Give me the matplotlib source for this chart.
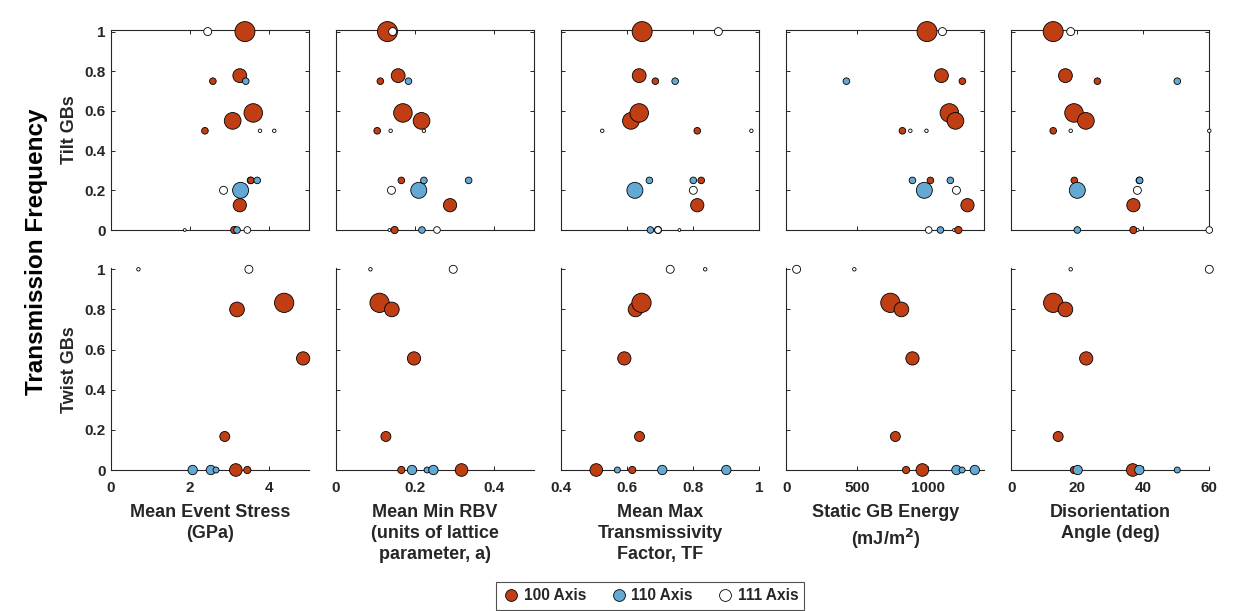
import numpy as np
import matplotlib
matplotlib.use('Agg')
import matplotlib.pyplot as plt
from matplotlib.lines import Line2D

plt.rcParams['font.family'] = ['Liberation Sans', 'DejaVu Sans']
plt.rcParams['font.weight'] = 'bold'

# ---------------- data ----------------
axis_types = ['100 Axis', '110 Axis', '111 Axis']
axis_colors = ['#BF3E14', '#63A9D4', '#FFFFFF']

metric_labels = ['Mean Event Stress\n(GPa)',
                 'Mean Min RBV\n(units of lattice\nparameter, a)',
                 'Mean Max\nTransmissivity\nFactor, TF',
                 'Static GB Energy\n(mJ/m$^\\mathbf{2}$)',
                 'Disorientation\nAngle (deg)']
metric_xlim = [(0, 5), (0, 0.5), (0.4, 1.0), (0, 1400), (0, 60)]
metric_ticks = [[0, 2, 4], [0, 0.2, 0.4], [0.4, 0.6, 0.8, 1.0], [0, 500, 1000], [0, 20, 40, 60]]
metric_ticklabels = [['0', '2', '4'], ['0', '0.2', '0.4'], ['0.4', '0.6', '0.8', '1'],
                     ['0', '500', '1000'], ['0', '20', '40', '60']]
freq_ticks = [0, 0.2, 0.4, 0.6, 0.8, 1.0]
freq_ticklabels = ['0', '0.2', '0.4', '0.6', '0.8', '1']

# Tilt GBs (axis index: 0=100, 1=110, 2=111)
tilt_axis = [2, 0, 0, 1, 0, 0, 0, 0, 2, 2, 0, 1, 1, 2, 1, 0, 2, 0, 1, 2]
tilt_freq = [1.0, 1.0, 0.778, 0.75, 0.75, 0.59, 0.55, 0.5, 0.5, 0.5,
             0.25, 0.25, 0.25, 0.2, 0.2, 0.125, 0.0, 0.0, 0.0, 0.0]
tilt_events = [16, 100, 48, 11, 11, 86, 70, 11, 3, 3, 11, 11, 11, 16, 64, 44, 2, 13, 11, 11]
tilt_stress = [2.45, 3.39, 3.26, 3.41, 2.58, 3.60, 3.08, 2.38, 3.77, 4.13,
               3.54, 3.70, 3.53, 2.85, 3.28, 3.26, 1.87, 3.12, 3.19, 3.45]
tilt_rbv = [0.143, 0.130, 0.157, 0.183, 0.112, 0.169, 0.216, 0.104, 0.138, 0.222,
            0.165, 0.222, 0.335, 0.140, 0.209, 0.288, 0.135, 0.148, 0.217, 0.255]
tilt_tf = [0.876, 0.645, 0.636, 0.745, 0.685, 0.636, 0.611, 0.812, 0.524, 0.976,
           0.824, 0.667, 0.800, 0.800, 0.623, 0.812, 0.758, 0.693, 0.670, 0.693]
tilt_energy = [1104, 995, 1097, 425, 1245, 1153, 1196, 821, 877, 991,
               1019, 892, 1160, 1203, 976, 1281, 1186, 1217, 1090, 1007]
tilt_angle = [18.0, 12.7, 16.4, 50.3, 26.1, 19.0, 22.6, 12.7, 18.0, 60.0,
              19.1, 38.8, 38.9, 38.2, 20.0, 37.0, 38.3, 37.0, 20.0, 60.0]

# Twist GBs
twist_axis = [2, 2, 0, 0, 0, 0, 0, 0, 1, 1, 1]
twist_freq = [1.0, 1.0, 0.833, 0.8, 0.556, 0.167, 0.0, 0.0, 0.0, 0.0, 0.0]
twist_events = [3, 16, 93, 54, 44, 25, 40, 13, 22, 22, 9]
twist_stress = [0.70, 3.49, 4.38, 3.19, 4.86, 2.88, 3.16, 3.45, 2.07, 2.53, 2.66]
twist_rbv = [0.087, 0.296, 0.110, 0.141, 0.197, 0.126, 0.317, 0.165, 0.192, 0.246, 0.230]
twist_tf = [0.836, 0.730, 0.643, 0.625, 0.591, 0.637, 0.506, 0.615, 0.706, 0.900, 0.570]
twist_energy = [481, 73, 736, 814, 892, 771, 962, 847, 1203, 1333, 1243]
twist_angle = [18.0, 60.0, 12.7, 16.4, 22.7, 14.2, 36.8, 19.0, 20.1, 38.8, 50.3]

# ---------------- figure ----------------
W, H = 1233, 611
fig = plt.figure(figsize=(W / 100, H / 100), dpi=100)
fig.patch.set_facecolor('white')

dark = '#262626'
col_left_px = [110.7, 336.0, 561.3, 786.3, 1011.3]
col_w_px = 198.0
area_per_event = 2.07

rows = [
    dict(name='Tilt GBs', bottom=230.0, height=200.0, ylim=(0, 1.008),
         axis=tilt_axis, freq=tilt_freq, events=tilt_events,
         xs=[tilt_stress, tilt_rbv, tilt_tf, tilt_energy, tilt_angle], box=True),
    dict(name='Twist GBs', bottom=470.0, height=201.7, ylim=(0, 1.005),
         axis=twist_axis, freq=twist_freq, events=twist_events,
         xs=[twist_stress, twist_rbv, twist_tf, twist_energy, twist_angle], box=False),
]

for r, row in enumerate(rows):
    for c in range(5):
        ax = fig.add_axes([col_left_px[c] / W, 1 - row['bottom'] / H,
                           col_w_px / W, row['height'] / H])
        x = np.asarray(row['xs'][c], dtype=float)
        y = np.asarray(row['freq'], dtype=float)
        a = np.asarray(row['axis'])
        n = np.asarray(row['events'], dtype=float)
        order = np.argsort(x, kind='stable')
        ax.scatter(x[order], y[order], s=n[order] * area_per_event,
                   c=[axis_colors[k] for k in a[order]],
                   edgecolors='black', linewidths=0.6, clip_on=False, zorder=3)
        ax.set_xlim(*metric_xlim[c])
        ax.set_ylim(*row['ylim'])
        ax.set_xticks(metric_ticks[c])
        ax.set_yticks(freq_ticks)
        for sp in ax.spines.values():
            sp.set_color(dark)
            sp.set_linewidth(0.8)
        if row['box']:
            ax.tick_params(direction='in', length=3, width=0.7, colors=dark,
                           top=True, right=True, labelbottom=False,
                           labelleft=(c == 0), labelsize=11)
        else:
            ax.spines['top'].set_visible(False)
            ax.spines['right'].set_visible(False)
            ax.tick_params(direction='in', length=3, width=0.7, colors=dark,
                           labelleft=(c == 0), labelsize=11)
            ax.tick_params(axis='x', pad=8)
            ax.set_xticklabels(metric_ticklabels[c], fontweight='bold')
            ax.set_xlabel(metric_labels[c], fontsize=13, fontweight='bold',
                          color=dark, linespacing=1.3)
            ax.xaxis.set_label_coords(0.5, -34.0 / row['height'])
        if c == 0:
            ax.set_yticklabels(freq_ticklabels, fontweight='bold')
            ax.set_ylabel(row['name'], fontsize=13, fontweight='bold',
                          color=dark, va='center')
            ax.yaxis.set_label_coords((70.0 - col_left_px[0]) / col_w_px, 0.5)
        else:
            ax.set_yticklabels([])

fig.text(37.0 / W, 1 - 252.0 / H, 'Transmission Frequency', rotation=90,
         ha='center', va='center', fontsize=17.5, fontweight='bold', color='black')

handles = [Line2D([], [], linestyle='none', marker='o', markersize=8.5,
                  markerfacecolor=col, markeredgecolor='black', markeredgewidth=0.6)
           for col in axis_colors]
leg = fig.legend(handles, axis_types, loc='center', bbox_to_anchor=(650.0 / W, 1 - 596.0 / H),
                 ncol=3, frameon=True, fancybox=False, fontsize=11.2,
                 handletextpad=0.2, columnspacing=1.5, handlelength=1.2,
                 borderpad=0.4, borderaxespad=0)
leg.get_frame().set_edgecolor(dark)
leg.get_frame().set_linewidth(0.8)
for t in leg.get_texts():
    t.set_fontweight('bold')
    t.set_color(dark)

fig.savefig('out.png', dpi=100)
